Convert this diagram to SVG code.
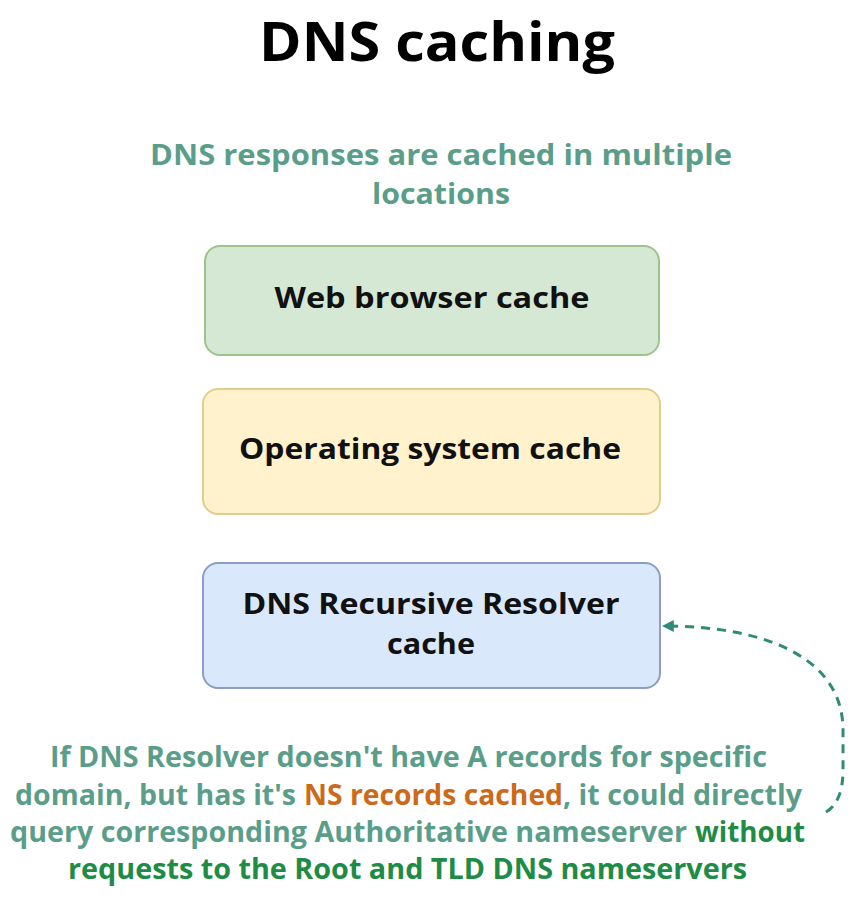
<svg xmlns="http://www.w3.org/2000/svg" width="859" height="902" viewBox="0 0 859 902">
<style>
text{font-family:"Open Sans","Noto Sans","DejaVu Sans",sans-serif;font-weight:bold;text-anchor:middle}
.title{font-size:54px;fill:#000}
.sub{font-size:29px;fill:#5a9e8a}
.node{font-size:28px;fill:#111}
.note{font-size:28px;fill:#5a9e8a}
.st{text-anchor:start}
.or{fill:#cc6a1a}
.gr{fill:#1e8c45}
.edge{fill:none;stroke:#2e8b74;stroke-width:3;stroke-dasharray:9 7}
</style>
<defs>
<marker id="ah" viewBox="0 0 10 10" refX="9" refY="5" markerWidth="4" markerHeight="4" orient="auto">
<path d="M0 0 L10 5 L0 10 Z" fill="#2e8b74"/>
</marker>
</defs>
<rect width="859" height="902" fill="#fff"/>
<text class="title" x="437" y="61" textLength="356" lengthAdjust="spacingAndGlyphs">DNS caching</text>
<text class="sub" x="441" y="165" textLength="582" lengthAdjust="spacingAndGlyphs">DNS responses are cached in multiple</text>
<text class="sub" x="441" y="204" textLength="138" lengthAdjust="spacingAndGlyphs">locations</text>
<g id="web">
<rect x="205" y="246" width="454" height="109" rx="15" fill="#d5e8d4" stroke="#9cc48b" stroke-width="2"/>
<text class="node" x="432" y="308" textLength="315" lengthAdjust="spacingAndGlyphs">Web browser cache</text>
</g>
<g id="os">
<rect x="203" y="389" width="457" height="125" rx="15" fill="#fff2cc" stroke="#e3cd8a" stroke-width="2"/>
<text class="node" x="430" y="459" textLength="382" lengthAdjust="spacingAndGlyphs">Operating system cache</text>
</g>
<g id="resolver">
<rect x="203" y="563" width="457" height="125" rx="15" fill="#dae8fc" stroke="#8c9ec8" stroke-width="2"/>
<text class="node" x="431" y="614" textLength="377" lengthAdjust="spacingAndGlyphs">DNS Recursive Resolver</text>
<text class="node" x="431" y="654" textLength="88" lengthAdjust="spacingAndGlyphs">cache</text>
</g>
<g id="note">
<text class="note st" x="50" y="767" textLength="717" lengthAdjust="spacingAndGlyphs">If DNS Resolver doesn't have A records for specific</text>
<text class="note st" x="15" y="805" textLength="281" lengthAdjust="spacingAndGlyphs">domain, but has it's</text>
<text class="note st or" x="304" y="805" textLength="259" lengthAdjust="spacingAndGlyphs">NS records cached</text>
<text class="note st" x="563" y="805" textLength="239" lengthAdjust="spacingAndGlyphs">, it could directly</text>
<text class="note st" x="10" y="842" textLength="677" lengthAdjust="spacingAndGlyphs">query corresponding Authoritative nameserver</text>
<text class="note st gr" x="695" y="842" textLength="110" lengthAdjust="spacingAndGlyphs">without</text>
<text class="note st gr" x="68" y="879" textLength="679" lengthAdjust="spacingAndGlyphs">requests to the Root and TLD DNS nameservers</text>
</g>
<g id="connectors">
<path class="edge" d="M826 812 Q843 802 843 770 L843 730 C843 660 770 626 663 626" marker-end="url(#ah)"/>
</g>
</svg>
